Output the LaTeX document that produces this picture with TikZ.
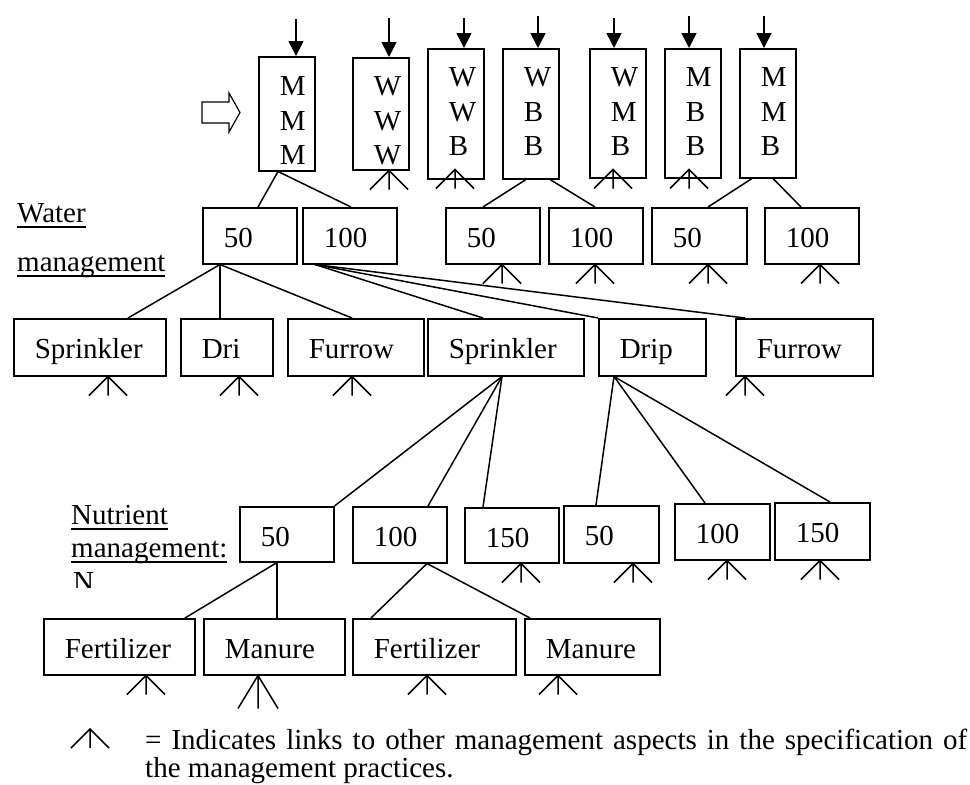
\documentclass[tikz,border=0pt]{standalone}
\usepackage{fontspec}
\setmainfont{Liberation Serif}
\usetikzlibrary{arrows.meta}
\hyphenpenalty=10000
\newcommand\ulx[1]{\setbox0=\hbox{#1}\rlap{\rule[-6pt]{\wd0}{1.6pt}}\box0}
\newcommand\cl[1]{\makebox[0pt][l]{#1}}
\tikzset{
  bx/.style={draw, line width=1.5pt, rectangle, anchor=north west, inner xsep=21pt, inner ysep=0pt,
    align=left, text height=40pt, text depth=16pt, font=\fontsize{29}{34.5}\selectfont},
  tallbx/.style={bx, text width=14pt},
  conn/.style={line width=1.5pt},
  toparr/.style={line width=1.5pt, -{Triangle[length=15pt,width=15pt]}},
  lbl/.style={inner sep=0pt, anchor=base west, font=\fontsize{29}{34.5}\selectfont},
  lnk/.pic={\draw[line width=1.5pt] (-19,19) -- (0,0) -- (19,19) (0,0) -- (0,19);},
  lnktall/.pic={\draw[line width=1.5pt] (-20,33) -- (0,0) -- (20,33) (0,0) -- (0,33);},
}
\begin{document}
\begin{tikzpicture}[x=1pt,y=-1pt]
\useasboundingbox (0,0) rectangle (970,785);

% ---------- tall boxes ----------
\node[tallbx, text height=39pt, text depth=75pt] (T1) at (258,56) {\cl{M}\\\cl{M}\\\cl{M}};
\node[tallbx, text height=38pt, text depth=74pt] (T2) at (352,57) {\cl{W}\\\cl{W}\\\cl{W}};
\node[tallbx, text height=38pt, text depth=92pt] (T3) at (427,48) {\cl{W}\\\cl{W}\\\cl{B}};
\node[tallbx, text height=38pt, text depth=92pt] (T4) at (502,48) {\cl{W}\\\cl{B}\\\cl{B}};
\node[tallbx, text height=38pt, text depth=91pt] (T5) at (589,48) {\cl{W}\\\cl{M}\\\cl{B}};
\node[tallbx, text height=38pt, text depth=91pt] (T6) at (664,48) {\cl{M}\\\cl{B}\\\cl{B}};
\node[tallbx, text height=38pt, text depth=91pt] (T7) at (739,48) {\cl{M}\\\cl{M}\\\cl{B}};

% top arrows
\coordinate (a1) at (296,19);
\coordinate (a2) at (389,18);
\coordinate (a3) at (464,18);
\coordinate (a4) at (538,16);
\coordinate (a5) at (614,18);
\coordinate (a6) at (689,16);
\coordinate (a7) at (764,16);
\draw[toparr] (a1) -- (a1 |- T1.north);
\draw[toparr] (a2) -- (a2 |- T2.north);
\draw[toparr] (a3) -- (a3 |- T3.north);
\draw[toparr] (a4) -- (a4 |- T4.north);
\draw[toparr] (a5) -- (a5 |- T5.north);
\draw[toparr] (a6) -- (a6 |- T6.north);
\draw[toparr] (a7) -- (a7 |- T7.north);

% hollow block arrow
\draw[line width=1.2pt] (202,102) -- (229,102) -- (229,93) -- (240,112.5) -- (229,132) -- (229,123) -- (202,123) -- cycle;

% ---------- water management row ----------
\node[bx, text width=52pt] (A) at (202,207) {50};
\node[bx, text width=52pt] (B) at (302,207) {100};
\node[bx, text width=52pt] (C) at (445,207) {50};
\node[bx, text width=52pt] (D) at (548,207) {100};
\node[bx, text width=53pt] (E) at (651,207) {50};
\node[bx, text width=52pt] (F) at (764,207) {100};

% ---------- irrigation row ----------
\node[bx, text width=110pt, text depth=17pt] (S1) at (13,318) {Sprinkler};
\node[bx, text width=50pt, text depth=17pt] (Dr1) at (180,318) {Dri};
\node[bx, text width=94pt, text depth=17pt] (F1) at (287,318) {Furrow};
\node[bx, text width=114pt, text depth=17pt] (S2) at (427,318) {Sprinkler};
\node[bx, text width=65pt, text depth=17pt] (Dr2) at (598,318) {Drip};
\node[bx, text width=95pt, text depth=17pt] (F2) at (735,318) {Furrow};

% ---------- nutrient row ----------
\node[bx, text width=52pt, text depth=15pt] (N1) at (239,506) {50};
\node[bx, text width=52pt] (N2) at (352,506) {100};
\node[bx, text width=52pt, text depth=15pt] (N3) at (464,507) {150};
\node[bx, text width=53pt, text depth=17pt] (N4) at (563,505) {50};
\node[bx, text width=53pt] (N5) at (674,503) {100};
\node[bx, text width=53pt, text depth=17pt] (N6) at (774,502) {150};

% ---------- fertilizer / manure row ----------
\node[bx, text width=109pt] (R1) at (43,618) {Fertilizer};
\node[bx, text width=99pt] (R2) at (203,618) {Manure};
\node[bx, text width=121pt] (R3) at (352,618) {Fertilizer};
\node[bx, text width=93pt] (R4) at (524,618) {Manure};

% ---------- connectors ----------
\draw[conn] ([xshift=20pt]T1.south west) -- ([xshift=56pt]A.north west);
\draw[conn] ([xshift=20pt]T1.south west) -- ([xshift=49pt]B.north west);
\draw[conn] ([xshift=24pt]T4.south west) -- ([xshift=38pt]C.north west);
\draw[conn] ([xshift=48pt]T4.south west) -- ([xshift=47pt]D.north west);
\draw[conn] ([xshift=13pt]T7.south west) -- ([xshift=57pt]E.north west);
\draw[conn] ([xshift=34pt]T7.south west) -- ([xshift=37pt]F.north west);

\draw[conn] ([xshift=18pt]A.south west) -- ([xshift=115pt]S1.north west);
\draw[conn] ([xshift=18pt]A.south west) -- ([xshift=40pt]Dr1.north west);
\draw[conn] ([xshift=18pt]A.south west) -- ([xshift=65pt]F1.north west);
\draw[conn] ([xshift=13pt]B.south west) -- ([xshift=56pt]S2.north west);
\draw[conn] ([xshift=13pt]B.south west) -- (Dr2.north west);
\draw[conn] ([xshift=13pt]B.south west) -- ([xshift=10pt]F2.north west);

\draw[conn] ([xshift=75pt]S2.south west) -- (N1.north east);
\draw[conn] ([xshift=75pt]S2.south west) -- ([xshift=76pt]N2.north west);
\draw[conn] ([xshift=75pt]S2.south west) -- ([xshift=19pt]N3.north west);
\draw[conn] ([xshift=16pt]Dr2.south west) -- ([xshift=33pt]N4.north west);
\draw[conn] ([xshift=16pt]Dr2.south west) -- ([xshift=31pt]N5.north west);
\draw[conn] ([xshift=16pt]Dr2.south west) -- ([xshift=56pt]N6.north west);

\draw[conn] ([xshift=38pt]N1.south west) -- ([xshift=142pt]R1.north west);
\draw[conn] ([xshift=38pt]N1.south west) -- ([xshift=74pt]R2.north west);
\draw[conn] ([xshift=75pt]N2.south west) -- ([xshift=19pt]R3.north west);
\draw[conn] ([xshift=75pt]N2.south west) -- ([xshift=6pt]R4.north west);

% ---------- link symbols ----------
\pic at ([xshift=37pt]T2.south west) {lnk};
\pic at ([xshift=28pt,yshift=10pt]T3.south west) {lnk};
\pic at ([xshift=24pt,yshift=9pt]T5.south west) {lnk};
\pic at ([xshift=25pt,yshift=9pt]T6.south west) {lnk};
\pic at ([xshift=57pt]C.south west) {lnk};
\pic at ([xshift=47pt]D.south west) {lnk};
\pic at ([xshift=57pt]E.south west) {lnk};
\pic at ([xshift=56pt]F.south west) {lnk};
\pic at ([xshift=95pt]S1.south west) {lnk};
\pic at ([xshift=59pt]Dr1.south west) {lnk};
\pic at ([xshift=65pt]F1.south west) {lnk};
\pic at ([xshift=10pt]F2.south west) {lnk};
\pic at ([xshift=57pt]N3.south west) {lnk};
\pic at ([xshift=70pt]N4.south west) {lnk};
\pic at ([xshift=53pt]N5.south west) {lnk};
\pic at ([xshift=46pt]N6.south west) {lnk};
\pic at ([xshift=103pt]R1.south west) {lnk};
\pic at ([xshift=55pt]R2.south west) {lnktall};
\pic at ([xshift=75pt]R3.south west) {lnk};
\pic at ([xshift=34pt]R4.south west) {lnk};

% ---------- side labels ----------
\node[lbl] (wm1) at (17,222) {\ulx{Water}};
\node[lbl] (wm2) at (17,271) {\ulx{management}};
\node[lbl] (nm1) at (71,524) {\ulx{Nutrient}};
\node[lbl] (nm2) at (71,557) {\ulx{management:}};
\begin{scope}
  \clip (60,562) rectangle (130,587);
  \node[lbl] (nm3) at (73,591) {N};
\end{scope}

% ---------- legend ----------
\coordinate (legsym) at (90,729);
\pic at (legsym) {lnk};
\node[lbl] (leg1) at (145,749) {\makebox[822pt][s]{= Indicates links to other management aspects in the specification of}};
\node[lbl] (leg2) at (145,777) {the management practices.};
\end{tikzpicture}
\end{document}
